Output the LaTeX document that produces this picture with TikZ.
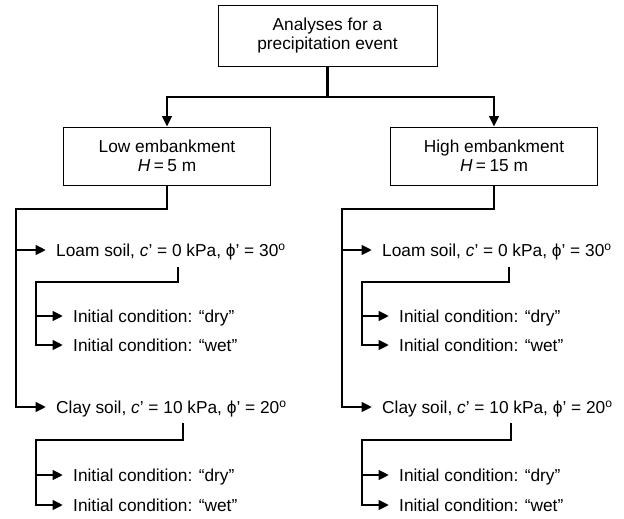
\documentclass[tikz,border=0pt]{standalone}
\usepackage{fontspec}
\setmainfont{Liberation Sans}
\usetikzlibrary{arrows.meta}

\tikzset{
  box/.style={draw, line width=0.9pt, align=center, inner sep=0pt},
  link/.style={line width=2.8pt},
  arr/.style={link, -{Triangle[length=10.5pt,width=9.5pt]}},
  lbl/.style={anchor=west, inner xsep=10pt, inner ysep=0pt, text height=13pt, text depth=0pt},
}

\begin{document}
\begin{tikzpicture}[x=1pt, y=-1pt, font=\fontsize{17.3}{19}\selectfont]
        \useasboundingbox (0,0) rectangle (624,519);

        \node[box, minimum width=219pt, minimum height=61pt] (event) at (327.5,35.5) {Analyses for a\\precipitation event};
        \node[box, minimum width=207pt, minimum height=58pt] (low) at (167,156) {Low embankment\\\textit{H}\hspace{.2em}=\hspace{.2em}5 m};
        \node[box, minimum width=207pt, minimum height=58pt] (high) at (494,156) {High embankment\\\textit{H}\hspace{.2em}=\hspace{.2em}15 m};

        \coordinate (split) at (327.5,97);
        \draw[link] (event.south) -- (split);
        \draw[arr] (split) -| (low.north);
        \draw[arr] (split) -| (high.north);

        % low embankment
        \node[lbl] (loamL) at (46,250) {Loam soil, \textit{c}’ = 0 kPa, ϕ’ = 30\textsuperscript{o}};
        \node[lbl] (dryLA) at (63,316) {Initial condition: “dry”};
        \node[lbl] (wetLA) at (63,345) {Initial condition: “wet”};
        \node[lbl] (clayL) at (46,407) {Clay soil, \textit{c}’ = 10 kPa, ϕ’ = 20\textsuperscript{o}};
        \node[lbl] (dryLB) at (63,475) {Initial condition: “dry”};
        \node[lbl] (wetLB) at (63,505) {Initial condition: “wet”};

        \coordinate (trunkL) at (16,209);
        \coordinate (loamDropL) at (178,267);
        \coordinate (loamTrunkL) at (36,282);
        \coordinate (clayDropL) at (183,423);
        \coordinate (clayTrunkL) at (36,440);

        \draw[arr] (low.south) |- (trunkL) |- (clayL.west);
        \draw[arr] (trunkL |- loamL.west) -- (loamL.west);
        \draw[arr] (loamDropL) |- (loamTrunkL) |- (dryLA.west);
        \draw[arr] (loamTrunkL) |- (wetLA.west);
        \draw[arr] (clayDropL) |- (clayTrunkL) |- (dryLB.west);
        \draw[arr] (clayTrunkL) |- (wetLB.west);

        % high embankment
        \node[lbl] (loamH) at (372,250) {Loam soil, \textit{c}’ = 0 kPa, ϕ’ = 30\textsuperscript{o}};
        \node[lbl] (dryHA) at (389,316) {Initial condition: “dry”};
        \node[lbl] (wetHA) at (389,345) {Initial condition: “wet”};
        \node[lbl] (clayH) at (372,407) {Clay soil, \textit{c}’ = 10 kPa, ϕ’ = 20\textsuperscript{o}};
        \node[lbl] (dryHB) at (389,475) {Initial condition: “dry”};
        \node[lbl] (wetHB) at (389,505) {Initial condition: “wet”};

        \coordinate (trunkH) at (342,209);
        \coordinate (loamDropH) at (509,267);
        \coordinate (loamTrunkH) at (362,282);
        \coordinate (clayDropH) at (511,423);
        \coordinate (clayTrunkH) at (362,440);

        \draw[arr] (high.south) |- (trunkH) |- (clayH.west);
        \draw[arr] (trunkH |- loamH.west) -- (loamH.west);
        \draw[arr] (loamDropH) |- (loamTrunkH) |- (dryHA.west);
        \draw[arr] (loamTrunkH) |- (wetHA.west);
        \draw[arr] (clayDropH) |- (clayTrunkH) |- (dryHB.west);
        \draw[arr] (clayTrunkH) |- (wetHB.west);
\end{tikzpicture}
\end{document}
